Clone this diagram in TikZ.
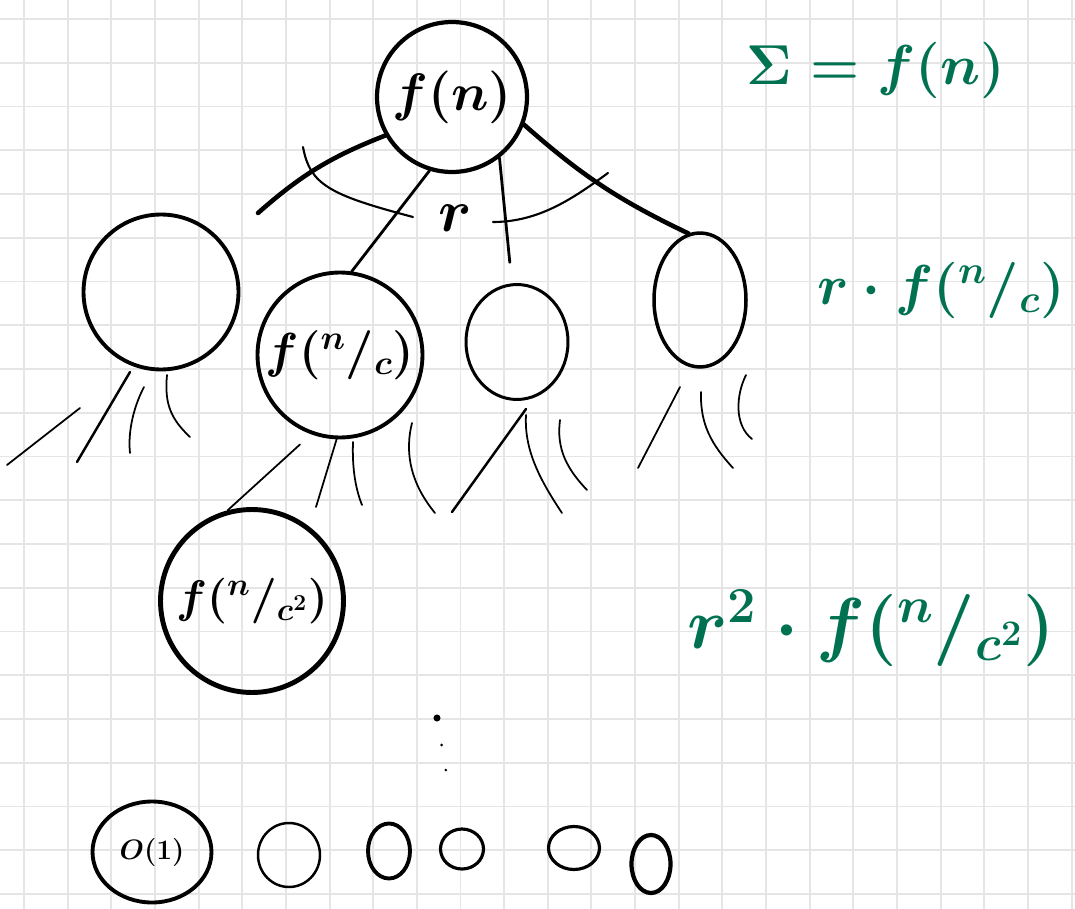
\RequirePackage{fix-cm}
\documentclass[tikz,border=0pt]{standalone}
\usepackage{amsmath}
\usepackage{xcolor}
\definecolor{handgreen}{RGB}{0,114,82}
\definecolor{gridgray}{RGB}{229,229,229}
\usepackage{tikz}
\usetikzlibrary{shapes.geometric,calc}
\newcommand{\slfrac}[2]{{}^{#1}/_{#2}}

\begin{document}
\begin{tikzpicture}[
    x=0.02cm, y=-0.02cm,
    gridline/.style={gridgray, line width=1.1pt},
    callnode/.style={circle, draw, line width=2.4pt, inner sep=0pt,
                     font=\fontsize{30}{36}\selectfont\boldmath},
    subnode/.style={ellipse, draw, line width=2pt, inner sep=0pt},
    leafnode/.style={ellipse, draw, line width=1.8pt, inner sep=0pt},
    link/.style={line width=2pt, line cap=round},
    stub/.style={line width=1pt, line cap=round},
    levelsum/.style={text=handgreen, inner sep=0pt},
  ]
    % paper
    \fill[white] (0,0) rectangle (1075,909);
    \useasboundingbox (0,0) rectangle (1075,909);
    \foreach \i in {0,...,24}
      \draw[gridline] ({24+43.65*\i},0) -- ({24+43.65*\i},909);
    \foreach \j in {0,...,20}
      \draw[gridline] (0,{19+43.75*\j}) -- (1075,{19+43.75*\j});

    % level 0
    \node[callnode, minimum size=3cm] (root) at (452,97) {$f(n)$};

    % level 1
    \node[callnode, minimum size=3.1cm, line width=2.2pt] (A) at (161,292) {};
    \node[callnode, minimum size=3.3cm, line width=2.2pt,
          font=\fontsize{28}{34}\selectfont\boldmath] (B) at (340,355) {$f(\slfrac{n}{c})$};
    \node[subnode, minimum width=2.04cm, minimum height=2.3cm, line width=1.7pt] (C) at (517,342) {};
    \node[subnode, minimum width=1.84cm, minimum height=2.68cm] (D) at (700,300) {};

    % level 2
    \node[callnode, minimum size=3.66cm, line width=2.8pt,
          font=\fontsize{26}{32}\selectfont\boldmath] (L2) at (252,601) {$f(\slfrac{n}{c^2})$};

    % leaves
    \node[subnode, minimum width=2.38cm, minimum height=2.02cm, line width=2.2pt,
          font=\fontsize{16}{20}\selectfont\boldmath] (base) at (152,852) {$O(1)$};
    \node[leafnode, minimum width=1.24cm, minimum height=1.28cm, line width=1.4pt] (leafa) at (289,855) {};
    \node[leafnode, minimum width=0.84cm, minimum height=1.1cm, line width=2.2pt] (leafb) at (389,851) {};
    \node[leafnode, minimum width=0.86cm, minimum height=0.8cm] (leafc) at (462,849) {};
    \node[leafnode, minimum width=1.02cm, minimum height=0.86cm] (leafd) at (574,848) {};
    \node[leafnode, minimum width=0.78cm, minimum height=1.16cm, line width=2.4pt] (leafe) at (651,864) {};

    % edges from the root
    \coordinate (aend) at (258,213);
    \draw[link, line width=2.6pt] (root.210) to[bend right=10] (aend);
    \draw[link, line width=1.6pt] (root.253) -- (B.82);
    \draw[link, line width=1.6pt, shorten >=0.42cm] (root.308) -- (C.95);
    \draw[link, line width=2.6pt] (root.339) to[bend right=8] (D.100);

    % branching factor
    \draw[stub, line width=1.2pt] (303,147) .. controls (310,185) and (330,195) .. (413,217);
    \draw[stub, line width=1.2pt] (493,222) .. controls (540,222) and (575,197) .. (608,173);
    \node[font=\fontsize{34}{40}\selectfont\boldmath] (rlab) at (455,218) {$r$};

    % further children
    \draw[stub] (80,408) -- (7,465);
    \draw[stub, line width=1.4pt] (130,372) -- (77,462);
    \draw[stub] (144,387) .. controls (132,410) and (128,435) .. (130,453);
    \draw[stub] (167,375) .. controls (164,405) and (172,420) .. (190,437);
    \draw[stub, shorten <=0.3cm] (B.250) -- (L2.105);
    \draw[stub] (337,438) -- (316,507);
    \draw[stub] (353,442) .. controls (352,470) and (356,490) .. (362,505);
    \draw[stub] (412,423) .. controls (404,455) and (412,485) .. (435,513);
    \draw[stub, line width=1.4pt] (526,409) -- (452,512);
    \draw[stub] (526,415) .. controls (524,450) and (540,480) .. (562,513);
    \draw[stub] (560,420) .. controls (556,450) and (568,470) .. (587,490);
    \draw[stub] (680,387) -- (638,468);
    \draw[stub] (701,392) .. controls (700,425) and (712,445) .. (733,468);
    \draw[stub] (746,375) .. controls (736,395) and (734,425) .. (752,439);

    % vertical dots
    \foreach \y/\r in {718/2pt, 745/0.9pt, 770/0.8pt}
      \fill ({437+0.17*(\y-718)},\y) circle (\r);

    % level sums
    \node[levelsum, font=\fontsize{32}{38}\selectfont\boldmath] (sum0) at (876,70) {$\Sigma = f(n)$};
    \node[levelsum, font=\fontsize{32}{38}\selectfont\boldmath] (sum1) at (941,290) {$r\cdot f(\slfrac{n}{c})$};
    \node[levelsum, font=\fontsize{41}{48}\selectfont\boldmath] (sum2) at (871,628) {$r^2\cdot f(\slfrac{n}{c^2})$};
\end{tikzpicture}
\end{document}
